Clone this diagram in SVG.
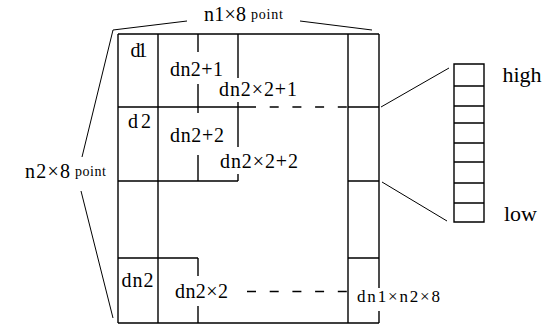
<svg xmlns="http://www.w3.org/2000/svg" width="556" height="327" viewBox="0 0 556 327">
<style>
.ln{stroke:#000;stroke-width:1.4;fill:none}
.th{stroke:#000;stroke-width:1;fill:none}
.da{stroke:#000;stroke-width:1.3;fill:none;stroke-dasharray:9 13.7}
text{font-family:"Liberation Serif",serif;fill:#000}
.t{font-size:20px}
.s{font-size:14px}
.m{font-size:17px}
.b{font-size:22px}
</style>
<rect width="556" height="327" fill="#fff"/>
<g id="grid">
<path class="ln" d="M118,34H379M118,34V323M118,323H379M379,34V288M379,311V323M158,34V323M348,34V323"/>
<path class="ln" d="M118,107H247M348,107H379M118,181H238M348,181H379M118,258H198M348,258H379"/>
<path class="ln" d="M198,34V52M198,84V113M198,155V181M238,34V78M238,102V147M238,174V181M198,258V276M198,306V323"/>
</g>
<g id="connectors">
<path class="da" d="M247,107H348M247,291.5H348"/>
<path class="th" d="M113,30L187,21M300,21L372,30M113,30L82,157M81,191L113,318M381,107L449,68M382,182L447,221"/>
</g>
<g id="stack">
<path class="ln" d="M454,64H484V222H454ZM454,86H484M454,106H484M454,123H484M454,143H484M454,162H484M454,183H484M454,203H484"/>
</g>
<g id="labels">
<text class="t" x="130.5" y="57" textLength="17">d1</text>
<text class="t" x="170" y="76" textLength="53">dn2+1</text>
<text class="t" x="219" y="96" textLength="78">dn2×2+1</text>
<text class="t" x="128" y="128" textLength="23">d2</text>
<text class="t" x="170" y="142" textLength="54">dn2+2</text>
<text class="t" x="220" y="168" textLength="78">dn2×2+2</text>
<text class="t" x="121.5" y="287" textLength="32">dn2</text>
<text class="t" x="175" y="298" textLength="53">dn2×2</text>
<text class="m" x="357" y="302" textLength="83">dn1×n2×8</text>
<text class="t" x="204" y="21" textLength="42">n1×8</text>
<text class="s" x="251" y="19" textLength="32">point</text>
<text class="t" x="25" y="178" textLength="45">n2×8</text>
<text class="s" x="75" y="176" textLength="31">point</text>
<text class="b" x="502.5" y="82">high</text>
<text class="b" x="504" y="221">low</text>
</g>
</svg>
